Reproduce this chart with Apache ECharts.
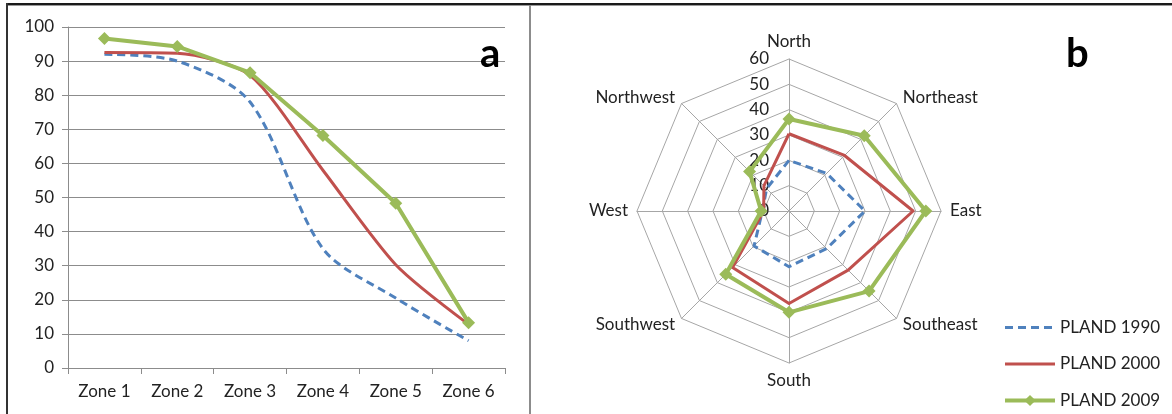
<!DOCTYPE html>
<html>
<head>
<meta charset="utf-8">
<script src="https://cdn.jsdelivr.net/npm/echarts@6/dist/echarts.min.js"></script>
<style>
  html, body { margin: 0; padding: 0; background: #fff; }
  #wrap { position: relative; width: 1172px; height: 414px; overflow: hidden; }
  #main { position: absolute; left: 0; top: 0; width: 1172px; height: 414px; }
  .frameTop { position: absolute; left: 6px; top: 3px; width: 1166px; height: 2px; background: #1a1a1a; border-bottom: 1px solid #999; }
  .frameLeft { position: absolute; left: 6px; top: 3px; width: 2px; height: 411px; background: #333; }
  .divider { position: absolute; left: 529px; top: 5px; width: 2px; height: 409px; background: #8c8c8c; }
</style>
</head>
<body>
<div id="wrap">
  <div id="main"></div>
  <div class="frameTop"></div>
  <div class="frameLeft"></div>
  <div class="divider"></div>
</div>
<script>
// panel a - zones
var zones = ['Zone 1', 'Zone 2', 'Zone 3', 'Zone 4', 'Zone 5', 'Zone 6'];
var zone1990 = [92, 90, 78, 35, 20.5, 8];
var zone2000 = [92.5, 92.3, 85.8, 58, 30.3, 12.8];
var zone2009 = [96.6, 94.3, 86.6, 68.2, 48.3, 13.3];

// panel b - directions (clockwise from north, as in the picture)
var directions = ['North', 'Northeast', 'East', 'Southeast', 'South', 'Southwest', 'West', 'Northwest'];
var dir1990 = [20, 21, 30, 21, 22, 19.5, 10.5, 12.5];
var dir2000 = [30.5, 31, 49, 33, 36.5, 31.5, 10, 14];
var dir2009 = [36.3, 42, 54, 44.7, 40, 35.3, 11, 22];
var radarTicks = [0, 10, 20, 30, 40, 50, 60];

var seriesNames = ['PLAND 1990', 'PLAND 2000', 'PLAND 2009'];
var colors = ['#4F81BD', '#C0504D', '#9BBB59'];
var font = 'Lato';

// echarts radar runs counter-clockwise, so reorder to keep North on top going clockwise
var order = [0, 7, 6, 5, 4, 3, 2, 1];
function reorder(arr) {
    return order.map(function (i) { return arr[i]; });
}

var indicators = reorder(directions).map(function (d, i) {
    var ind = { name: d, min: 0, max: radarTicks[radarTicks.length - 1] };
    if (i === 0) {
        ind.axisLabel = { show: true };
    }
    return ind;
});

var chart = echarts.init(document.getElementById('main'));

var option = {
    animation: false,
    textStyle: { fontFamily: font },
    title: [
        { text: 'a', left: 475, top: 29, textStyle: { fontSize: 40, fontWeight: 'bold', color: '#000', fontFamily: font } },
        { text: 'b', left: 1061, top: 29, textStyle: { fontSize: 40, fontWeight: 'bold', color: '#000', fontFamily: font } }
    ],
    legend: {
        data: [
            { name: seriesNames[0], itemStyle: { opacity: 0 }, lineStyle: { width: 3 } },
            { name: seriesNames[1], itemStyle: { opacity: 0 }, lineStyle: { width: 3 } },
            { name: seriesNames[2], lineStyle: { width: 4 } }
        ],
        orient: 'vertical',
        left: 998,
        top: 314,
        itemWidth: 50,
        itemHeight: 14,
        itemGap: 19.5,
        textStyle: { fontSize: 17, color: '#222', fontFamily: font }
    },
    grid: {
        left: 68,
        right: 667,
        top: 27,
        bottom: 46
    },
    xAxis: {
        type: 'category',
        data: zones,
        boundaryGap: true,
        axisLine: { lineStyle: { color: '#8c8c8c', width: 1 } },
        axisTick: { show: true, length: 6, lineStyle: { color: '#8c8c8c' } },
        axisLabel: { fontSize: 17, color: '#222', margin: 15 }
    },
    yAxis: {
        type: 'value',
        min: 0,
        max: 100,
        interval: 10,
        axisLine: { show: true, lineStyle: { color: '#8c8c8c' } },
        axisTick: { show: true, length: 6, lineStyle: { color: '#8c8c8c' } },
        axisLabel: { fontSize: 17, color: '#222', margin: 14 },
        splitLine: { lineStyle: { color: '#8c8c8c', width: 1 } }
    },
    radar: {
        center: [789, 211],
        radius: 152,
        startAngle: 90,
        shape: 'polygon',
        splitNumber: radarTicks.length - 1,
        indicator: indicators,
        axisName: { color: '#222', fontSize: 17, fontFamily: font },
        nameGap: 9,
        axisLine: { lineStyle: { color: '#a6a6a6' } },
        splitLine: { lineStyle: { color: '#a6a6a6' } },
        splitArea: { show: false },
        axisLabel: { show: false, fontSize: 17, color: '#222', margin: 20, fontFamily: font }
    },
    series: [
        {
            name: seriesNames[0], type: 'line', data: zone1990, smooth: 0.3,
            symbol: 'none', color: colors[0],
            lineStyle: { color: colors[0], width: 3, type: [8, 5] }
        },
        {
            name: seriesNames[1], type: 'line', data: zone2000, smooth: 0.25,
            symbol: 'none', color: colors[1],
            lineStyle: { color: colors[1], width: 3 }
        },
        {
            name: seriesNames[2], type: 'line', data: zone2009,
            symbol: 'diamond', symbolSize: 13, color: colors[2],
            itemStyle: { color: colors[2] },
            lineStyle: { color: colors[2], width: 4 }
        },
        {
            type: 'radar',
            data: [
                {
                    name: seriesNames[0], value: reorder(dir1990), symbol: 'none',
                    itemStyle: { color: colors[0] },
                    lineStyle: { color: colors[0], width: 3, type: [8, 5] }
                },
                {
                    name: seriesNames[1], value: reorder(dir2000), symbol: 'none',
                    itemStyle: { color: colors[1] },
                    lineStyle: { color: colors[1], width: 3 }
                },
                {
                    name: seriesNames[2], value: reorder(dir2009), symbol: 'diamond', symbolSize: 13,
                    itemStyle: { color: colors[2] },
                    lineStyle: { color: colors[2], width: 4 }
                }
            ]
        }
    ]
};

chart.setOption(option);
</script>
</body>
</html>
